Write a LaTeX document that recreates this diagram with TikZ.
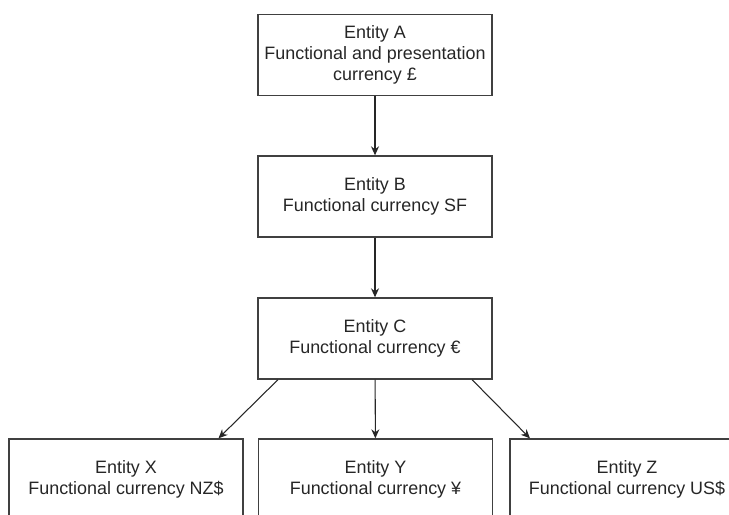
\documentclass[tikz,border=0pt]{standalone}
\usepackage{fontspec}
\setmainfont{Liberation Sans}
\usetikzlibrary{arrows.meta}

\begin{document}
\begin{tikzpicture}[x=0.02cm,y=-0.02cm,
        entity/.style={draw=black!75,line width=0.8pt,rectangle,minimum width=4.68cm,minimum height=1.62cm,
            align=center,text=black!85,font=\fontsize{10.2pt}{11.9pt}\selectfont},
        link/.style={draw=black!85,line width=0.6pt,-{Stealth[length=0.18cm,width=0.16cm]}}]
        \useasboundingbox (0,0) rectangle (729,514);
        \clip (0,0) rectangle (729,514);

        \node[entity] (A) at (375,55) {Entity A\\Functional and presentation\\currency \pounds};
        \node[entity] (B) at (375,196.5) {Entity B\\Functional currency SF};
        \node[entity] (C) at (375,338.5) {Entity C\\Functional currency €};
        \node[entity] (X) at (126,479.5) {Entity X\\Functional currency NZ\$};
        \node[entity] (Y) at (375.5,479.5) {Entity Y\\Functional currency ¥};
        \node[entity] (Z) at (627,479.5) {Entity Z\\Functional currency US\$};

        \foreach \from / \to in {A/B,B/C,C/Y}
            \path (\from) edge[link] (\to);
        \path (C.203) edge[link] (X.24);
        \path (C.337) edge[link] (Z.157);
    \end{tikzpicture}
\end{document}
